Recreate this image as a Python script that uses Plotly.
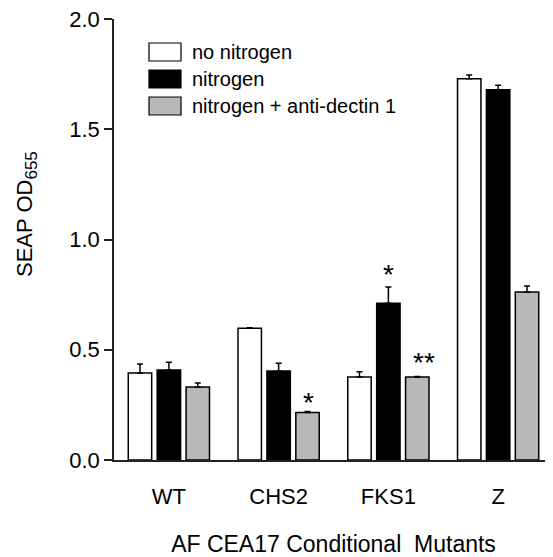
import plotly.graph_objects as go

categories = ["WT", "CHS2", "FKS1", "Z"]
series_names = ["no nitrogen", "nitrogen", "nitrogen + anti-dectin 1"]
no_nitrogen = [0.395, 0.597, 0.376, 1.729]
no_nitrogen_err = [0.040, 0.003, 0.024, 0.017]
nitrogen = [0.408, 0.404, 0.711, 1.679]
nitrogen_err = [0.035, 0.035, 0.074, 0.020]
anti_dectin = [0.331, 0.215, 0.376, 0.762]
anti_dectin_err = [0.018, 0.005, 0.003, 0.027]
fills = ["white", "black", "#b8b8b8"]

# significance markers: (category, series index, label, y position)
sig_cats = ["CHS2", "FKS1", "FKS1"]
sig_series = [2, 1, 2]
sig_labels = ["*", "*", "**"]
sig_y = [0.262, 0.842, 0.443]

y_title = "SEAP OD<sub><span style='font-size:17px'>655</span></sub>"
x_title = "AF CEA17 Conditional  Mutants"

values = [no_nitrogen, nitrogen, anti_dectin]
errors = [no_nitrogen_err, nitrogen_err, anti_dectin_err]

FONT = "Liberation Sans, Arial, sans-serif"

fig = go.Figure()
for name, v, e, c in zip(series_names, values, errors, fills):
    fig.add_trace(go.Bar(
        x=categories, y=v, name=name,
        marker=dict(color=c, line=dict(color="black", width=1.5)),
        error_y=dict(type="data", symmetric=False, array=e,
                     arrayminus=[0] * len(e), color="black",
                     thickness=1.5, width=3),
        showlegend=False,
    ))

offsets_px = [-29, 0, 29]
nudge_px = [1, 0, 7]
for cat, si, lab, yv, nd in zip(sig_cats, sig_series, sig_labels, sig_y, nudge_px):
    fig.add_annotation(x=cat, y=yv, xref="x", yref="y", text=lab,
                       showarrow=False, xshift=offsets_px[si] + nd,
                       font=dict(size=28, color="black", family=FONT),
                       yanchor="middle")

# page body has an 8px margin, so the figure is offset by 8px
FIG_W, FIG_H = 545, 549
plot_left, plot_top, plot_w, plot_h = 106, 11, 439, 441
def px_to_paper_x(px):
    return (px - 8 - plot_left) / plot_w
def px_to_paper_y(py):
    return 1 - (py - 8 - plot_top) / plot_h

legend_tops = [43, 70, 97]
for name, c, top in zip(series_names, fills, legend_tops):
    fig.add_shape(type="rect", xref="paper", yref="paper",
                  x0=px_to_paper_x(149), x1=px_to_paper_x(181),
                  y0=px_to_paper_y(top + 18), y1=px_to_paper_y(top),
                  fillcolor=c, line=dict(color="black", width=1.2))
    fig.add_annotation(xref="paper", yref="paper",
                       x=px_to_paper_x(190), y=px_to_paper_y(top + 9),
                       text=name, showarrow=False, xanchor="left",
                       yanchor="middle",
                       font=dict(size=20, color="black", family=FONT))

# y-axis title placed as a rotated annotation (it sits above the plot centre)
fig.add_annotation(xref="paper", yref="paper",
                   x=px_to_paper_x(26), y=px_to_paper_y(214),
                   text=y_title, textangle=-90, showarrow=False,
                   xanchor="center", yanchor="middle",
                   font=dict(size=22, color="black", family=FONT))

fig.update_layout(
    width=FIG_W, height=FIG_H,
    margin=dict(l=plot_left, r=0, t=plot_top, b=FIG_H - plot_top - plot_h),
    paper_bgcolor="white", plot_bgcolor="white",
    barmode="group", bargap=0.21, bargroupgap=0.19,
    font=dict(family=FONT, color="black"),
    xaxis=dict(
        type="category", range=[-0.5, 3.5], automargin=False,
        showline=True, linecolor="#222", linewidth=1.5,
        ticks="", showgrid=False, ticklabelstandoff=16,
        tickfont=dict(size=22, family=FONT),
        title=dict(text=x_title,
                   font=dict(size=23, family=FONT), standoff=31),
    ),
    yaxis=dict(
        range=[0, 2.0], tickvals=[0, 0.5, 1.0, 1.5, 2.0],
        tickformat=".1f", automargin=False, ticklabeloverflow="allow",
        showline=True, linecolor="#222", linewidth=1.5,
        ticks="outside", ticklen=8, tickwidth=1.5, tickcolor="#222",
        showgrid=False, zeroline=False,
        tickfont=dict(size=22, family=FONT),
    ),
)

fig.write_html("out.html")
